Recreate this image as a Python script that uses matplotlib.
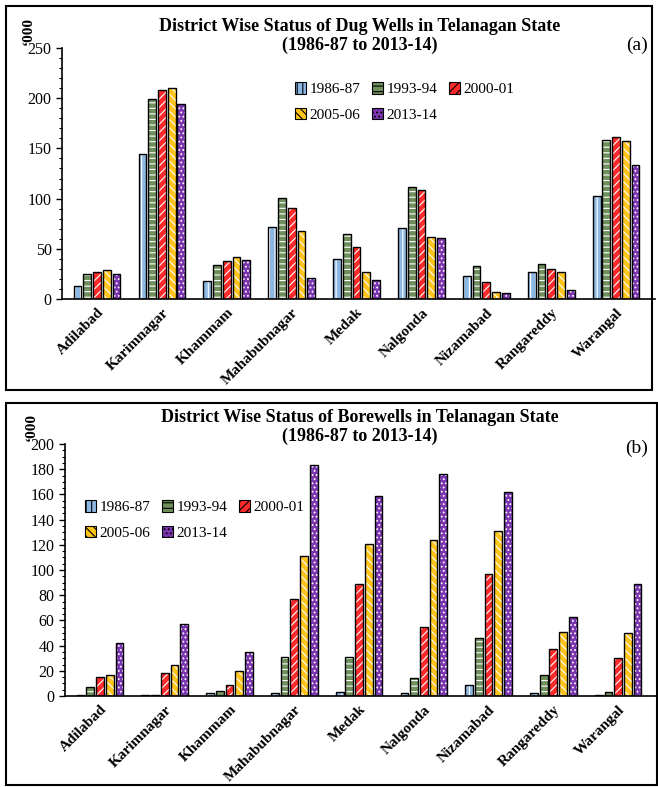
import numpy as np
import matplotlib
matplotlib.use("Agg")
import matplotlib.pyplot as plt
from matplotlib.patches import Rectangle
from matplotlib.ticker import MultipleLocator

plt.rcParams['font.family'] = ['Liberation Serif', 'DejaVu Serif']
plt.rcParams['hatch.linewidth'] = 0.8

districts = ['Adilabad', 'Karimnagar', 'Khammam', 'Mahabubnagar', 'Medak',
             'Nalgonda', 'Nizamabad', 'Rangareddy', 'Warangal']
years = ['1986-87', '1993-94', '2000-01', '2005-06', '2013-14']

# Dug wells ('000)
dug_1986 = [13, 144, 18, 72, 40, 71, 23, 27, 103]
dug_1993 = [25, 199, 34, 101, 65, 112, 33, 35, 158]
dug_2000 = [27, 208, 38, 91, 52, 109, 17, 30, 161]
dug_2005 = [29, 210, 42, 68, 27, 62, 7, 27, 157]
dug_2013 = [25, 194, 39, 21, 19, 61, 6, 9, 133]

# Borewells ('000)
bore_1986 = [1, 0.5, 2, 2, 3, 2, 9, 2, 0.5]
bore_1993 = [7, 1, 4, 31, 31, 14, 46, 17, 3]
bore_2000 = [15, 18, 9, 77, 89, 55, 97, 37, 30]
bore_2005 = [17, 25, 20, 111, 121, 124, 131, 51, 50]
bore_2013 = [42, 57, 35, 183, 159, 176, 162, 63, 89]

colors = ['#8DB8E2', '#6F8F5C', '#FF2A2A', '#FFC51A', '#7B35B0']
hatches = ['|||', '---', '////', '\\\\\\\\', '....']

fig = plt.figure(figsize=(6.58, 7.87), dpi=100)
W, H = 658.0, 787.0


def draw_panel(rect, series, ymax, major, minor, title, title_y, tag, tag_y,
               legend_box, box):
    # panel frame
    fig.patches.append(Rectangle((box[0] / W, 1 - box[3] / H), (box[2] - box[0]) / W,
                                 (box[3] - box[1]) / H, transform=fig.transFigure,
                                 fill=False, edgecolor='black', linewidth=1.5))
    ax = fig.add_axes(rect)
    x = np.arange(len(districts))
    step = 0.15
    bw = 0.12
    handles = []
    for i, vals in enumerate(series):
        pos = x + (i - 2) * step
        ax.bar(pos, vals, bw, color=colors[i], edgecolor='white', hatch=hatches[i],
               linewidth=0, zorder=2)
        ax.bar(pos, vals, bw, fill=False, edgecolor='black', linewidth=1.0, zorder=3)
        h = Rectangle((0, 0), 1, 1, facecolor=colors[i], edgecolor='black',
                      hatch=hatches[i], linewidth=0.8)
        handles.append(h)
    ax.set_xlim(-0.54, 8.6)
    ax.set_ylim(0, ymax)
    ax.yaxis.set_major_locator(MultipleLocator(major))
    ax.yaxis.set_minor_locator(MultipleLocator(minor))
    for s in ['top', 'right']:
        ax.spines[s].set_visible(False)
    ax.spines['left'].set_linewidth(1.2)
    ax.spines['bottom'].set_linewidth(1.2)
    ax.tick_params(axis='y', which='major', length=4, width=1, labelsize=11.5)
    ax.tick_params(axis='y', which='minor', length=2.5, width=0.8)
    ax.tick_params(axis='x', length=0, pad=5)
    ax.set_xticks(x)
    ax.set_xticklabels(districts, rotation=45, ha='right', rotation_mode='anchor',
                       fontweight='bold', fontsize=11)
    fig.text(360 / W, 1 - title_y / H, title,
             ha='center', va='center', fontsize=13, fontweight='bold', linespacing=1.15)
    fig.text(637 / W, 1 - tag_y / H, tag, ha='center', va='center', fontsize=14)
    fig.text(rect[0] - 0.052, rect[1] + rect[3] + 17 / H, '\u2018000', rotation=90,
             ha='center', va='center', fontsize=11, fontweight='bold')
    # row-wise legend order for 3 columns
    order = [0, 3, 1, 4, 2]
    fig.legend([handles[k] for k in order], [years[k] for k in order],
               loc='upper left', bbox_to_anchor=legend_box,
               ncol=3, frameon=False, fontsize=11, handlelength=0.7,
               handleheight=0.8, handletextpad=0.25, columnspacing=0.75,
               labelspacing=0.75, borderaxespad=0)
    return ax


draw_panel([62 / W, 1 - 299 / H, 593 / W, 251 / H],
           [dug_1986, dug_1993, dug_2000, dug_2005, dug_2013],
           250, 50, 10,
           'District Wise Status of Dug Wells in Telanagan State\n(1986-87 to 2013-14)',
           36, '(a)', 45, (289 / W, 1 - 76 / H), (6, 6, 652, 390))

draw_panel([65 / W, 1 - 696 / H, 592 / W, 252 / H],
           [bore_1986, bore_1993, bore_2000, bore_2005, bore_2013],
           200, 20, 5,
           'District Wise Status of Borewells in Telanagan State\n(1986-87 to 2013-14)',
           427, '(b)', 448, (79 / W, 1 - 494 / H), (6, 403, 657, 785))

fig.savefig('out.png', dpi=100)
